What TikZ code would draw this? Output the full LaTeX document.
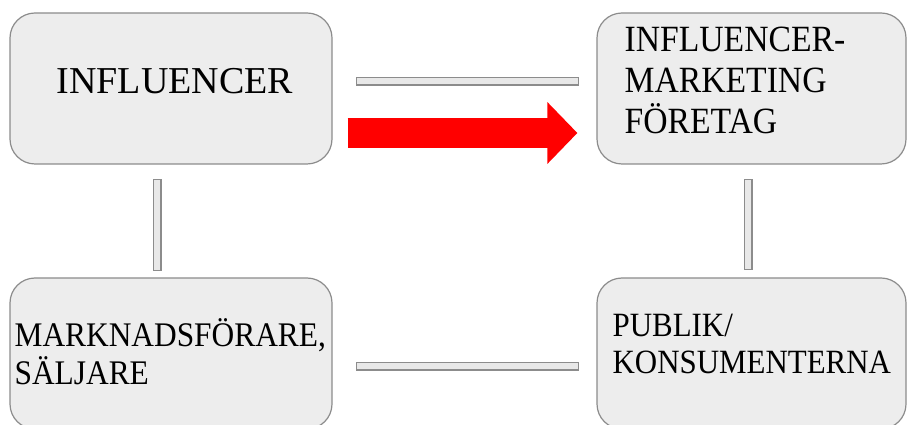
\documentclass[tikz,border=0pt]{standalone}
\usepackage{fontspec}
\setmainfont{Liberation Serif}
\newfontfamily\narrowserif[FakeStretch=0.91]{Liberation Serif}
\usepackage{xcolor}
\usetikzlibrary{
    arrows.meta,
    positioning,
    calc,
}

\definecolor{boxfill}{HTML}{EDEDED}
\definecolor{boxline}{HTML}{8C8C8C}
\definecolor{barfill}{HTML}{E8E8E8}
\definecolor{arrowred}{HTML}{FF0000}

\begin{document}
\begin{tikzpicture}[
        x=1pt, y=1pt,
        box/.style={
            rectangle, rounded corners=25pt, draw=boxline, line width=1.2pt,
            fill=boxfill, minimum width=#1, minimum height=151pt, inner sep=0pt
        },
        box/.default=322pt,
        label/.style={inner sep=0pt, align=left, text=black},
        bar/.style={
            draw=boxline, double=barfill, line width=1.5pt,
            double distance=6pt, line cap=rect
        },
        bigarrow/.style={
            draw=arrowred, line width=30pt,
            -{Triangle[length=30pt, width=60pt, fill=arrowred]}
        },
    ]
    \useasboundingbox (0,0) rectangle (907,425);

    % ── Boxes ──
    \node[box] (infl) at (171,336.5) {};
    \node[box=309pt] (firm) at (751.5,336.5) {};
    \node[box] (mark) at (171,71.5) {};
    \node[box=309pt] (publ) at (751.5,71.5) {};

    % ── Texts (base = last line) ──
    \node[label, anchor=base, font=\fontsize{38}{44}\selectfont]
        (inflT) at ([xshift=4pt, yshift=-4.8pt]infl.center) {INFLUENCER};
    \node[label, anchor=base west, font=\narrowserif\fontsize{37}{41}\selectfont]
        (firmT) at ([xshift=28pt, yshift=-45.5pt]firm.west)
        {INFLUENCER-\\MARKETING\\FÖRETAG};
    \node[label, anchor=base west, font=\narrowserif\fontsize{34.5}{38}\selectfont]
        (markT) at ([xshift=5pt, yshift=-31.5pt]mark.west)
        {MARKNADSFÖRARE,\\SÄLJARE};
    \node[label, anchor=base west, font=\narrowserif\fontsize{34}{37.5}\selectfont]
        (publT) at ([xshift=16pt, yshift=-20.5pt]publ.west)
        {PUBLIK/\\KONSUMENTERNA};

    % ── Bars ──
    \draw[bar, shorten <=27.5pt, shorten >=21.5pt]
        ([yshift=7pt]infl.east) -- ([yshift=7pt]firm.west);
    \draw[bar, shorten <=27.5pt, shorten >=21.5pt]
        ([yshift=-13pt]mark.east) -- ([yshift=-13pt]publ.west);
    \draw[bar, shorten <=18.5pt, shorten >=10.5pt]
        ([xshift=-14pt]infl.south) -- ([xshift=-14pt]mark.north);
    \draw[bar, shorten <=18.5pt, shorten >=11.5pt]
        ([xshift=-3.5pt]firm.south) -- ([xshift=-3.5pt]publ.north);

    % ── Red arrow ──
    \draw[bigarrow, shorten <=15pt, shorten >=19pt]
        ([yshift=-44.5pt]infl.east) -- ([yshift=-44.5pt]firm.west);

\end{tikzpicture}
\end{document}
